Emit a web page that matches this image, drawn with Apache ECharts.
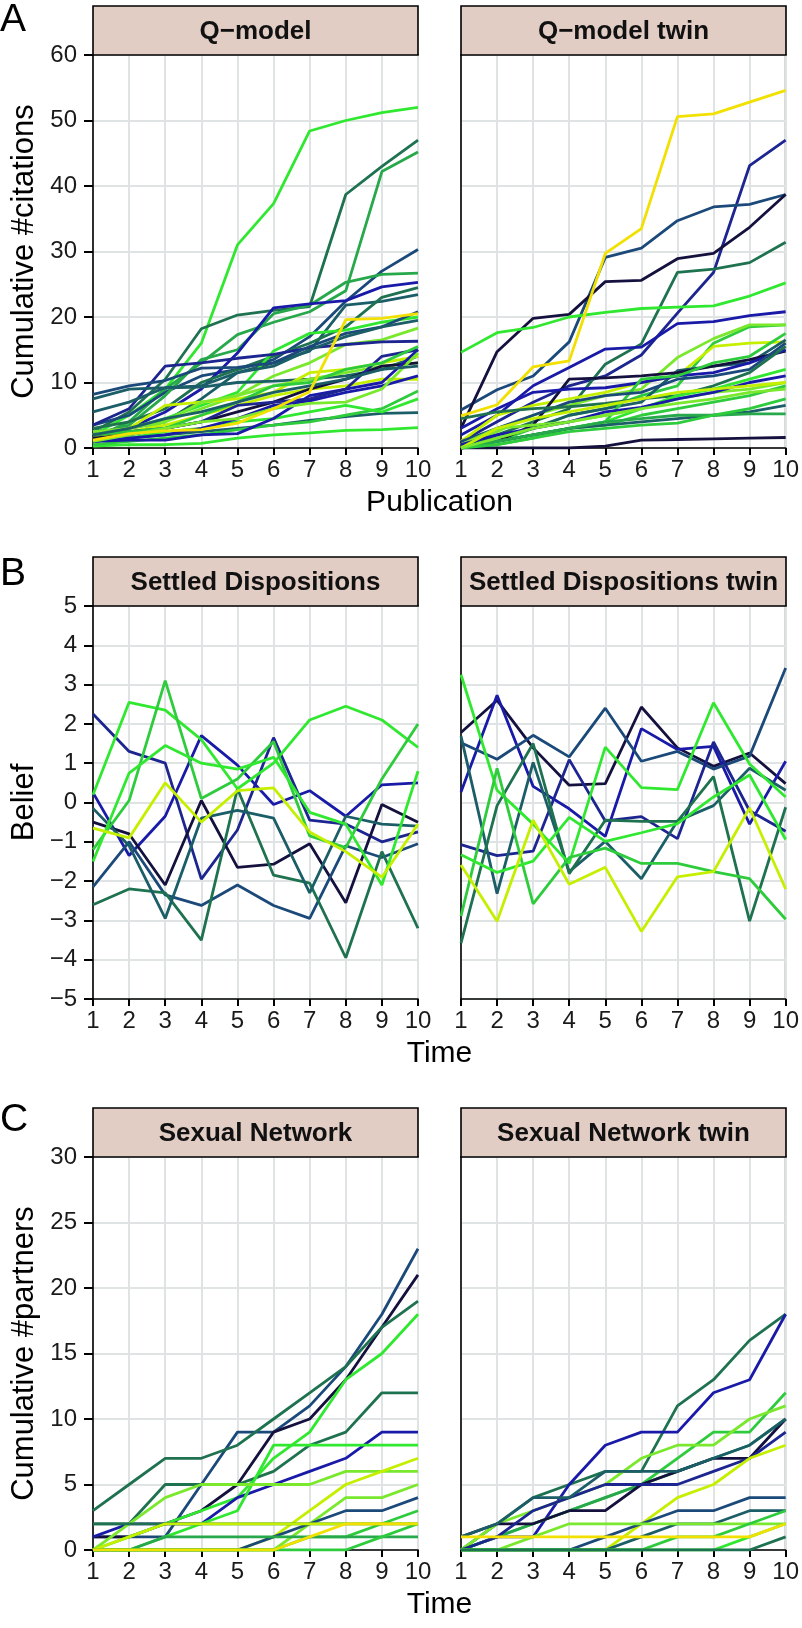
<!DOCTYPE html>
<html>
<head>
<meta charset="utf-8">
<script src="https://cdn.jsdelivr.net/npm/echarts@6/dist/echarts.min.js"></script>
<style>
  html, body { margin: 0; padding: 0; background: #fff; }
  #chart { width: 802px; height: 1628px; }
</style>
</head>
<body>
<div id="chart"></div>
<script>
// x positions shared by every panel
const steps = [1, 2, 3, 4, 5, 6, 7, 8, 9, 10];

// palette used for the lines (dark navy -> blue -> teal -> green -> yellow)
const NAVY = '#15113f', BLUE = '#1a1aa8', DBLUE = '#1d2590', TBLUE = '#1b4a7a',
      TEAL = '#1b5e68', DGREEN = '#1e7250', MGREEN = '#27a84a', GREEN = '#2ecc3c',
      BGREEN = '#30e830', LGREEN = '#7ae82c', YGREEN = '#c4f000', YELLOW = '#f2e000';

// Panel A: Q-model, cumulative citations
const qModel = [
  [2, 5, 9, 16, 31, 37.3, 48.4, 50, 51.2, 52],
  [2.5, 5.5, 10.5, 18.2, 20.3, 21, 21.6, 38.7, 43, 47],
  [1.5, 4, 9, 13, 17.3, 19.2, 20.8, 24, 42.2, 45.2],
  [3.5, 5, 8.5, 11, 12, 13.5, 17, 22.4, 27, 30.3],
  [2, 3.5, 8, 13.5, 15, 20.5, 21.8, 25.3, 26.5, 26.7],
  [1.5, 3, 5.5, 9, 14.5, 21.4, 22, 22.5, 24.6, 25.3],
  [2.5, 3, 4, 7.5, 11.5, 13, 14.8, 21.8, 22.4, 23.4],
  [3, 4, 6, 10, 12, 14, 16, 18.5, 23, 24.5],
  [2, 3, 4.5, 6.5, 8.5, 14.8, 17.5, 18, 19.2, 20],
  [1.2, 2, 4, 6, 8, 11, 13, 15.8, 16.5, 18.3],
  [3.5, 6, 12.5, 13, 13.7, 14.3, 15.3, 15.8, 16.2, 16.3],
  [8.2, 9.5, 10.3, 12.2, 12.3, 13, 15.5, 17.5, 18.5, 20.8],
  [7.5, 9, 9.2, 9.5, 11.5, 12.5, 15, 17, 18.5, 19.5],
  [5.5, 7, 9.2, 9.3, 10, 10.2, 10.5, 11, 12, 14],
  [0.3, 0.5, 0.5, 0.7, 1.5, 2, 2.3, 2.7, 2.8, 3.1],
  [1, 1.5, 2, 2.5, 3, 3.5, 4.2, 4.8, 5.3, 5.4],
  [0.5, 1, 1.5, 2, 2.8, 3.5, 4, 5, 6, 8.7],
  [1, 1.5, 2.5, 3, 4, 4.5, 5.5, 6.5, 5.5, 7.5],
  [2, 3, 6.5, 7, 7.5, 8.5, 11.5, 12, 13, 14],
  [1.5, 2.5, 3.5, 5, 6.5, 8, 9, 9.5, 10.5, 10.5],
  [2.5, 3, 4, 7, 8, 9.5, 10.5, 11.5, 12.5, 13],
  [1, 1.5, 2, 3, 4.5, 6.5, 7.2, 8.5, 9.5, 11],
  [1.5, 2, 3, 4, 5.5, 7, 9, 10.5, 12.5, 13],
  [1, 1.2, 1.2, 2, 2.2, 4.5, 8, 9, 10, 15],
  [2, 2.5, 3, 4, 6.5, 7, 7.5, 9, 14, 15],
  [2, 2.5, 3, 5, 7, 9.5, 10, 12, 13, 15.5],
  [1, 2, 3, 4, 4.5, 6, 6.8, 7, 9, 14.5],
  [2, 3, 4.5, 5.5, 7, 8.5, 9.5, 10.5, 12, 12.5],
  [1.2, 2.2, 2.6, 2.8, 3.8, 6, 8.6, 19.6, 19.8, 20.5]
];
const qModelColors = [BGREEN, DGREEN, MGREEN, TBLUE, MGREEN, BLUE, TEAL, DGREEN, BGREEN, LGREEN,
  DBLUE, TBLUE, TEAL, TEAL, BGREEN, TEAL, GREEN, BGREEN, YGREEN, YGREEN, LGREEN, BLUE, NAVY,
  BLUE, DBLUE, GREEN, LGREEN, TEAL, YELLOW];

const qModelTwin = [
  [1, 4, 7, 9.5, 11, 14.2, 20.6, 26.8, 43.1, 47],
  [5.8, 8.9, 11, 16.2, 29.1, 30.5, 34.7, 36.8, 37.2, 38.7],
  [3, 14.7, 19.8, 20.4, 25.4, 25.6, 28.9, 29.7, 33.7, 38.7],
  [0.5, 2, 4, 6, 12.8, 15.9, 26.8, 27.3, 28.3, 31.4],
  [14.6, 17.6, 18.4, 20, 20.7, 21.3, 21.5, 21.7, 23.2, 25.2],
  [2, 5, 9.5, 12.3, 15.1, 15.4, 19, 19.3, 20.2, 20.8],
  [0, 1, 3, 5, 6, 8, 9.5, 16, 18.5, 18.8],
  [0.5, 2.5, 5, 6.5, 8, 9, 13.8, 16.7, 18.8, 18.8],
  [1, 5, 6.5, 7.5, 8.5, 10, 11, 15.5, 16, 16.2],
  [0.5, 1.5, 3, 5, 6, 7, 11.8, 12.5, 13, 16.5],
  [0, 1, 3.5, 10.5, 10.7, 11, 11.5, 12.5, 13.5, 14.8],
  [3, 6, 8.5, 9, 9.2, 10, 11, 11.5, 13, 15],
  [0.2, 1, 2, 3, 4, 10.5, 11, 13, 14, 17.5],
  [1, 3, 5, 7, 8, 8.5, 10.5, 11, 12, 16],
  [4.5, 5.5, 6, 6.3, 6.8, 7.5, 8, 9.5, 11.5, 15.5],
  [0, 1, 2, 3, 4, 6, 8, 9, 10.5, 12],
  [0, 0.5, 1.5, 3, 3.5, 5, 6, 7, 8, 9.5],
  [0, 1, 2, 3, 3.5, 4, 4.5, 5, 5.5, 6.5],
  [0, 1, 2, 3, 4, 4.5, 5, 5, 5.2, 5.2],
  [0.5, 3, 3.5, 4, 5, 6, 7.5, 8.5, 9, 10],
  [0, 0, 0, 0, 0.3, 1.2, 1.3, 1.4, 1.5, 1.6],
  [0, 0.5, 1.5, 2.5, 3, 3.5, 3.8, 5, 6, 7.5],
  [0.5, 2, 3, 4, 5.5, 6.2, 7.5, 8.5, 10, 11],
  [0, 3, 4.5, 5.5, 6.5, 7.5, 8.5, 9, 9.5, 10],
  [0, 1.5, 3, 4, 5, 6, 6.8, 7.5, 8.5, 9],
  [4.9, 6.6, 12.4, 13.3, 29.7, 33.5, 50.6, 51, 52.8, 54.6]
];
const qModelTwinColors = [DBLUE, TBLUE, NAVY, DGREEN, BGREEN, BLUE, GREEN, LGREEN, YGREEN, TEAL,
  NAVY, BLUE, GREEN, TBLUE, DGREEN, BGREEN, GREEN, TEAL, MGREEN, LGREEN, NAVY, GREEN, BLUE,
  YGREEN, LGREEN, YELLOW];

// Panel B: Settled Dispositions, belief
const settled = [
  [2.25, 1.3, 1.0, -1.95, -0.7, 1.65, -0.45, -0.55, -1.0, -0.75],
  [0.25, -1.35, -0.35, 1.7, 0.95, -0.05, 0.3, -0.35, 0.45, 0.5],
  [-0.5, -0.8, -2.1, 0.05, -1.65, -1.57, -1.05, -2.55, -0.05, -0.5],
  [-2.15, -1.0, -2.35, -2.62, -2.1, -2.62, -2.95, -1.1, -1.4, -1.05],
  [-2.6, -2.2, -2.3, -3.5, 0.35, -1.85, -2.05, -3.95, -1.25, -3.2],
  [-0.15, -1.1, -2.95, -0.4, -0.2, -0.4, -2.3, -0.35, -0.55, -0.6],
  [0.2, 2.55, 2.35, 1.6, 0.35, 1.0, 2.1, 2.45, 2.1, 1.4],
  [-1.2, 0.05, 3.1, 0.1, 0.6, 1.55, -0.85, -1.15, 0.6, 2.0],
  [-1.5, 0.75, 1.45, 1.0, 0.85, 1.15, -0.25, -0.55, -2.1, 0.8],
  [-0.65, -0.9, 0.5, -0.5, 0.3, 0.37, -0.75, -1.25, -1.9, -0.55]
];
const settledColors = [DBLUE, BLUE, NAVY, TBLUE, DGREEN, TEAL, BGREEN, GREEN, BGREEN, YGREEN];

const settledTwin = [
  [1.78, 2.6, 1.39, 0.44, 0.48, 2.43, 1.39, 0.92, 1.26, 0.48],
  [0.27, 2.73, 0.41, -0.16, -0.86, 1.88, 1.35, 1.43, -0.55, 1.05],
  [1.52, 1.1, 1.71, 1.16, 2.4, 1.05, 1.3, 0.85, 1.18, 3.42],
  [-1.07, -1.35, -1.24, 1.09, -0.47, -0.36, -0.92, 1.54, -0.21, -0.73],
  [1.69, -2.32, 1.02, -1.76, -0.99, -1.94, -0.47, -0.08, 0.87, 0.31],
  [-3.58, -0.08, 1.5, -1.81, -0.45, -0.48, -0.48, 0.66, -3.02, -0.12],
  [3.25, 0.31, -0.55, -1.55, 1.41, 0.38, 0.33, 2.54, 0.98, 0.14],
  [-2.89, 0.87, -2.58, -1.4, -1.16, -1.55, -1.55, -1.76, -1.94, -2.97],
  [-1.33, -1.78, -1.49, -0.38, -0.99, -0.77, -0.54, 0.14, 0.7, -0.94],
  [-1.59, -3.02, -0.45, -2.08, -1.65, -3.28, -1.89, -1.76, -0.14, -2.2]
];
const settledTwinColors = [NAVY, BLUE, TBLUE, DBLUE, TEAL, DGREEN, BGREEN, GREEN, BGREEN, YGREEN];

// Panel C: Sexual Network, cumulative partners
const sexual = [
  [1, 1, 1, 5, 9, 9, 11, 14, 18, 23],
  [1, 1, 2, 3, 5, 9, 10, 13, 17, 21],
  [3, 5, 7, 7, 8, 10, 12, 14, 17, 19],
  [0, 1, 2, 3, 4, 7, 9, 13, 15, 18],
  [2, 2, 5, 5, 5, 6, 8, 9, 12, 12],
  [1, 2, 2, 2, 4, 5, 6, 7, 9, 9],
  [0, 0, 1, 2, 3, 8, 8, 8, 8, 8],
  [0, 2, 4, 5, 5, 5, 5, 6, 6, 6],
  [0, 0, 0, 0, 0, 1, 3, 5, 6, 7],
  [0, 0, 0, 0, 0, 0, 2, 4, 4, 5],
  [0, 0, 0, 0, 0, 1, 2, 3, 3, 4],
  [0, 0, 0, 0, 0, 0, 1, 1, 2, 3],
  [2, 2, 2, 2, 2, 2, 2, 2, 2, 2],
  [0, 1, 2, 2, 2, 2, 2, 2, 2, 2],
  [0, 0, 1, 1, 1, 1, 1, 1, 1, 1],
  [0, 0, 0, 0, 0, 0, 0, 0, 1, 2],
  [0, 0, 0, 0, 0, 0, 1, 2, 2, 2]
];
const sexualColors = [TBLUE, NAVY, DGREEN, BGREEN, DGREEN, BLUE, BGREEN, LGREEN, YGREEN, LGREEN,
  TBLUE, GREEN, DGREEN, YGREEN, MGREEN, GREEN, YELLOW];

const sexualTwin = [
  [0, 2, 4, 5, 6, 6, 11, 13, 16, 18],
  [0, 1, 1, 5, 8, 9, 9, 12, 13, 18],
  [0, 1, 2, 3, 4, 5, 7, 9, 9, 12],
  [0, 2, 3, 4, 5, 7, 8, 8, 10, 11],
  [0, 1, 2, 3, 4, 5, 6, 7, 8, 10],
  [1, 2, 2, 3, 3, 5, 6, 7, 7, 10],
  [0, 1, 3, 4, 5, 5, 5, 6, 7, 9],
  [1, 2, 4, 4, 6, 6, 6, 7, 8, 10],
  [0, 0, 0, 0, 0, 2, 4, 5, 7, 8],
  [0, 0, 0, 0, 1, 2, 3, 3, 4, 4],
  [0, 0, 0, 0, 0, 1, 2, 2, 3, 3],
  [0, 0, 1, 2, 2, 2, 2, 2, 2, 2],
  [0, 0, 0, 0, 0, 0, 1, 1, 2, 3],
  [0, 0, 0, 0, 0, 0, 0, 0, 1, 2],
  [0, 0, 0, 0, 0, 0, 0, 0, 0, 1],
  [1, 1, 1, 1, 1, 1, 1, 1, 1, 2]
];
const sexualTwinColors = [DGREEN, BLUE, GREEN, LGREEN, MGREEN, NAVY, DBLUE, TEAL, YGREEN, TBLUE,
  TEAL, LGREEN, GREEN, BGREEN, DGREEN, YELLOW];

// panel text
const stripTitles = [
  ['Q\u2212model', 'Q\u2212model twin'],
  ['Settled Dispositions', 'Settled Dispositions twin'],
  ['Sexual Network', 'Sexual Network twin']
];
const yTitles = ['Cumulative #citations', 'Belief', 'Cumulative #partners'];
const xTitles = ['Publication', 'Time', 'Time'];
const panelLetters = ['A', 'B', 'C'];
const yRanges = [[0, 60, 10], [-5, 5, 1], [0, 30, 5]];
const panelData = [[qModel, qModelTwin], [settled, settledTwin], [sexual, sexualTwin]];
const panelColors = [[qModelColors, qModelTwinColors], [settledColors, settledTwinColors], [sexualColors, sexualTwinColors]];

// layout
const FONT = '"Liberation Sans", Arial, Helvetica, sans-serif';
const colLeft = [93, 461];
const plotW = 325;
const rowTop = [55, 606, 1157];
const plotH = 393;
const stripH = 49;
const GRID_COLOR = '#dfe3e3';

const chart = echarts.init(document.getElementById('chart'), null, { renderer: 'canvas' });

const grids = [], xAxes = [], yAxes = [], series = [], graphics = [];
let idx = 0;
for (let r = 0; r < 3; r++) {
  for (let c = 0; c < 2; c++) {
    grids.push({
      left: colLeft[c], top: rowTop[r], width: plotW, height: plotH,
      show: true, borderColor: '#000', borderWidth: 1.6, backgroundColor: '#fff'
    });
    xAxes.push({
      type: 'value', gridIndex: idx, min: 1, max: 10, interval: 1,
      axisLine: { show: true, onZero: false, lineStyle: { color: '#000', width: 1.6 } },
      axisTick: { show: true, length: 7, lineStyle: { color: '#000', width: 2 } },
      axisLabel: { show: true, fontSize: 24, color: '#1a1a1a', fontFamily: FONT, margin: 10,
                   showMinLabel: true, showMaxLabel: true },
      splitLine: { show: true, lineStyle: { color: GRID_COLOR, width: 2 } }
    });
    const [ymin, ymax, yint] = yRanges[r];
    yAxes.push({
      type: 'value', gridIndex: idx, min: ymin, max: ymax, interval: yint,
      name: c === 0 ? yTitles[r] : '', nameLocation: 'middle', nameRotate: 90, nameGap: 53,
      nameTextStyle: { fontSize: 31, color: '#000', fontFamily: FONT },
      axisLine: { show: true, onZero: false, lineStyle: { color: '#000', width: 1.6 } },
      axisTick: { show: c === 0, length: 9, lineStyle: { color: '#000', width: 2 } },
      axisLabel: { show: c === 0, fontSize: 24, color: '#1a1a1a', fontFamily: FONT, margin: 16,
                   showMinLabel: true, showMaxLabel: true,
                   formatter: v => (v < 0 ? '\u2212' + Math.abs(v) : String(v)) },
      splitLine: { show: true, lineStyle: { color: GRID_COLOR, width: 2 } }
    });
    const lines = panelData[r][c];
    const cols = panelColors[r][c];
    lines.forEach((vals, k) => {
      series.push({
        type: 'line', xAxisIndex: idx, yAxisIndex: idx, symbol: 'none',
        data: steps.map((s, i) => [s, vals[i]]),
        lineStyle: { color: cols[k], width: 2.8 },
        itemStyle: { color: cols[k] },
        silent: true, clip: true
      });
    });
    // facet strip
    graphics.push({
      type: 'rect', shape: { x: colLeft[c], y: rowTop[r] - stripH, width: plotW, height: stripH },
      style: { fill: '#e2cdc5', stroke: '#000', lineWidth: 1.6 }, z: 10
    });
    graphics.push({
      type: 'text', x: colLeft[c] + plotW / 2, y: rowTop[r] - stripH / 2 + 1,
      style: { text: stripTitles[r][c], font: 'bold 26px ' + FONT, fill: '#111',
               textAlign: 'center', textVerticalAlign: 'middle' }, z: 11
    });
    idx++;
  }
  // shared x title and panel letter
  graphics.push({
    type: 'text', x: (colLeft[0] + colLeft[1] + plotW) / 2, y: rowTop[r] + plotH + 55,
    style: { text: xTitles[r], font: '30px ' + FONT, fill: '#000',
             textAlign: 'center', textVerticalAlign: 'middle' }, z: 11
  });
  graphics.push({
    type: 'text', x: 0, y: rowTop[r] - stripH + [14, 17, 12][r],
    style: { text: panelLetters[r], font: '39px ' + FONT, fill: '#000',
             textAlign: 'left', textVerticalAlign: 'middle' }, z: 11
  });
}

chart.setOption({
  animation: false,
  backgroundColor: '#fff',
  grid: grids,
  xAxis: xAxes,
  yAxis: yAxes,
  series: series,
  graphic: graphics
});
</script>
</body>
</html>
